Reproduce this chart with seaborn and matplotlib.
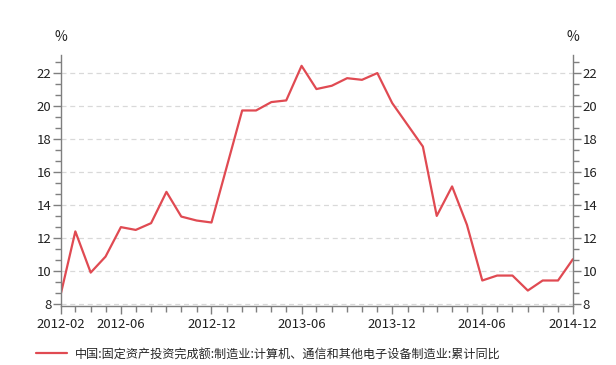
import pandas as pd
import matplotlib
matplotlib.use("Agg")
import matplotlib.pyplot as plt
import matplotlib.dates as mdates
from matplotlib.ticker import MultipleLocator
import seaborn as sns

# monthly series (Jan values are not published, so they are skipped)
months = ["2012-02", "2012-03", "2012-04", "2012-05", "2012-06", "2012-07",
          "2012-08", "2012-09", "2012-10", "2012-11", "2012-12",
          "2013-02", "2013-03", "2013-04", "2013-05", "2013-06", "2013-07",
          "2013-08", "2013-09", "2013-10", "2013-11", "2013-12",
          "2014-02", "2014-03", "2014-04", "2014-05", "2014-06", "2014-07",
          "2014-08", "2014-09", "2014-10", "2014-11", "2014-12"]
values = [8.65, 12.4, 9.9, 10.87, 12.66, 12.49,
          12.9, 14.8, 13.3, 13.06, 12.94,
          19.74, 19.74, 20.25, 20.35, 22.45, 21.04,
          21.24, 21.7, 21.6, 22.01, 20.19,
          17.55, 13.34, 15.13, 12.8, 9.42, 9.72,
          9.72, 8.81, 9.42, 9.42, 10.71]
tick_labels = ["2012-02", "2012-06", "2012-12", "2013-06", "2013-12", "2014-06", "2014-12"]
series_name = "中国:固定资产投资完成额:制造业:计算机、通信和其他电子设备制造业:累计同比"

df = pd.DataFrame({"date": pd.to_datetime(months), "value": values})

sns.set_style("white")
plt.rcParams["font.family"] = ["Noto Sans CJK SC", "DejaVu Sans"]

fig = plt.figure(figsize=(6.16, 3.65), dpi=100)
ax = fig.add_axes([0.099, 0.162, 0.831, 0.687])

sns.lineplot(data=df, x="date", y="value", color="#e04a52", linewidth=1.6,
             label=series_name, ax=ax, legend=False)

ax.set_ylim(7.88, 23.1)
ax.set_xlim(pd.Timestamp("2012-02-01"), pd.Timestamp("2014-12-01"))
ax.yaxis.set_major_locator(MultipleLocator(2))
ax.yaxis.set_minor_locator(MultipleLocator(2 / 3))
ax.set_xticks(pd.to_datetime(tick_labels))
ax.set_xticklabels(tick_labels)
ax.xaxis.set_minor_locator(mdates.MonthLocator())

grey = "#7f7f7f"
for side in ["left", "right", "bottom"]:
    ax.spines[side].set_color(grey)
    ax.spines[side].set_linewidth(1.0)
ax.spines["top"].set_visible(False)

ax.tick_params(axis="y", which="both", left=True, right=True, labelleft=True,
               labelright=True, color=grey, direction="out")
ax.tick_params(axis="x", which="both", bottom=True, color=grey, direction="out")
ax.tick_params(which="major", length=6, width=1, labelsize=9.5, pad=1,
               labelcolor="#222222")
ax.tick_params(which="minor", length=4, width=1)
ax.tick_params(axis="x", which="major", pad=3)

ax.grid(axis="y", which="major", color="#d9d9d9", linestyle=(0, (4, 3)), linewidth=0.9)
ax.grid(axis="x", visible=False)
ax.set_xlabel("")
ax.set_ylabel("")

ax.text(0.0, 1.045, "%", transform=ax.transAxes, ha="center", va="bottom",
        fontsize=10, color="#222222")
ax.text(1.0, 1.045, "%", transform=ax.transAxes, ha="center", va="bottom",
        fontsize=10, color="#222222")

handles, labels = ax.get_legend_handles_labels()
fig.legend(handles, labels, loc="center", bbox_to_anchor=(0.435, 0.03),
           frameon=False, fontsize=8.7, handlelength=2.6, handletextpad=0.6)

fig.savefig("out.png", dpi=100)
